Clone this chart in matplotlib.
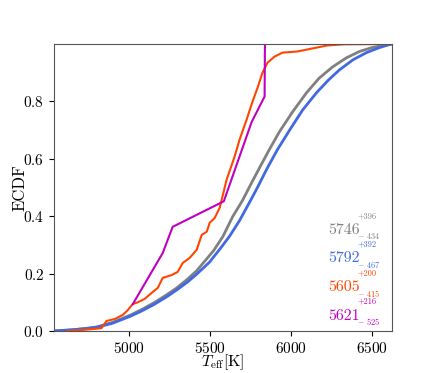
import matplotlib
matplotlib.use('Agg')
import matplotlib.pyplot as plt

plt.rcParams['font.family'] = 'serif'
plt.rcParams['font.serif'] = ['cmr10', 'DejaVu Serif']
plt.rcParams['mathtext.fontset'] = 'cm'
plt.rcParams['axes.formatter.use_mathtext'] = True

# ECDF curves (Teff [K], cumulative fraction)
gray_t = [4540, 4650, 4750, 4803, 4900, 5012, 5080, 5154, 5230, 5295, 5360, 5418, 5470,
          5522, 5580, 5639, 5700, 5750, 5805, 5865, 5928, 6010, 6094, 6170, 6254, 6340,
          6420, 6500, 6586, 6620]
gray_f = [0.0, 0.004, 0.01, 0.014, 0.03, 0.056, 0.075, 0.098, 0.125, 0.15, 0.18, 0.21, 0.245,
          0.28, 0.33, 0.398, 0.455, 0.51, 0.569, 0.632, 0.695, 0.765, 0.83, 0.88, 0.92, 0.952,
          0.974, 0.988, 0.997, 1.0]

blue_t = [4540, 4650, 4750, 4803, 4900, 5012, 5080, 5154, 5230, 5295, 5360, 5418, 5497,
          5560, 5620, 5682, 5740, 5792, 5850, 5915, 5990, 6070, 6155, 6230, 6297, 6380,
          6463, 6540, 6592, 6620]
blue_f = [0.0, 0.004, 0.009, 0.013, 0.027, 0.052, 0.07, 0.092, 0.118, 0.143, 0.17, 0.198, 0.24,
          0.285, 0.33, 0.385, 0.445, 0.5, 0.565, 0.632, 0.70, 0.77, 0.83, 0.875, 0.91, 0.945,
          0.97, 0.987, 0.996, 1.0]

orange_t = [4620, 4700, 4800, 4832, 4863, 4914, 4963, 4994, 5025, 5055, 5098, 5141, 5178,
            5209, 5264, 5301, 5332, 5375, 5418, 5449, 5480, 5498, 5529, 5560, 5602, 5651,
            5682, 5725, 5762, 5793, 5823, 5854, 5897, 5946, 6039, 6125, 6223, 6328, 6620]
orange_f = [0.0, 0.003, 0.008, 0.01, 0.035, 0.042, 0.056, 0.073, 0.094, 0.10, 0.112, 0.133, 0.15,
            0.185, 0.195, 0.206, 0.237, 0.255, 0.283, 0.335, 0.346, 0.377, 0.394, 0.43, 0.527, 0.607,
            0.667, 0.736, 0.80, 0.848, 0.90, 0.935, 0.956, 0.97, 0.974, 0.984, 0.995, 0.999, 1.0]

mag_t = [5025, 5209, 5270, 5585, 5756, 5836, 5838]
mag_f = [0.094, 0.272, 0.363, 0.452, 0.728, 0.817, 1.0]

medians = ['5746', '5792', '5605', '5621']
plus = ['+396', '+392', '+200', '+216']
minus = ['434', '467', '415', '525']
colors = ['gray', 'royalblue', 'orangered', 'm']

fig = plt.figure(figsize=(4.36, 3.73), dpi=100)
ax = fig.add_axes([0.124, 0.1126, 0.775, 0.7694])

ax.plot(gray_t, gray_f, color='gray', lw=2)
ax.plot(blue_t, blue_f, color='royalblue', lw=2)
ax.plot(orange_t, orange_f, color='orangered', lw=1.5)
ax.plot(mag_t, mag_f, color='m', lw=1.5)

for i in range(4):
    yc = 0.352 - i * 0.0995
    ax.text(0.811, yc, medians[i], transform=ax.transAxes, color=colors[i],
            fontsize=11.5, ha='left', va='center')
    ax.text(0.898, yc + 0.05, plus[i], transform=ax.transAxes, color=colors[i],
            fontsize=6, ha='left', va='center')
    ax.text(0.898, yc - 0.022, r'$-$ ' + minus[i], transform=ax.transAxes, color=colors[i],
            fontsize=6, ha='left', va='center')

ax.set_xlim(4540, 6620)
ax.set_ylim(0, 1.0)
ax.set_xticks([5000, 5500, 6000, 6500])
ax.set_yticks([0.0, 0.2, 0.4, 0.6, 0.8])
ax.tick_params(labelsize=11)
ax.set_xlabel(r'$T_{\rm eff}[{\rm K}]$', fontsize=11.5, va='center')
ax.xaxis.set_label_coords(0.5, -0.108)
ax.set_ylabel('ECDF', fontsize=12, va='center')
ax.yaxis.set_label_coords(-0.10, 0.5)
for s in ax.spines.values():
    s.set_color('#555555')

fig.savefig('out.png', dpi=100)
